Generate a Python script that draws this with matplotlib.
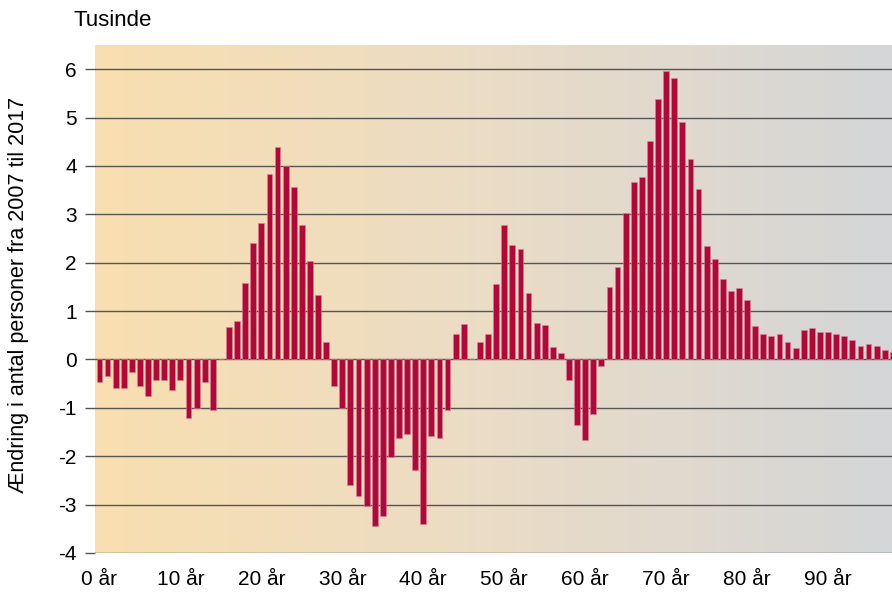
import numpy as np
import matplotlib
matplotlib.use('Agg')
import matplotlib.pyplot as plt
from matplotlib.colors import LinearSegmentedColormap

# ===== DATA =====
ages = np.arange(0, 99)
change = [
    -0.47, -0.35, -0.59, -0.59, -0.27, -0.55, -0.76, -0.43, -0.43, -0.63,
    -0.43, -1.21, -1.00, -0.47, -1.05, 0.00, 0.67, 0.80, 1.59, 2.41,
    2.83, 3.83, 4.39, 3.99, 3.57, 2.78, 2.04, 1.34, 0.35, -0.55,
    -1.00, -2.59, -2.83, -3.03, -3.45, -3.24, -2.01, -1.62, -1.55, -2.29,
    -3.41, -1.59, -1.62, -1.05, 0.53, 0.74, 0.00, 0.36, 0.53, 1.55,
    2.78, 2.37, 2.29, 1.38, 0.76, 0.71, 0.26, 0.14, -0.43, -1.35,
    -1.67, -1.13, -0.14, 1.50, 1.92, 3.03, 3.66, 3.78, 4.52, 5.39,
    5.97, 5.81, 4.90, 4.15, 3.53, 2.34, 2.08, 1.67, 1.42, 1.47,
    1.23, 0.69, 0.52, 0.48, 0.52, 0.36, 0.23, 0.60, 0.65, 0.56,
    0.56, 0.52, 0.48, 0.40, 0.28, 0.32, 0.28, 0.19, 0.15,
]
tick_ages = [0, 10, 20, 30, 40, 50, 60, 70, 80, 90]
tick_labels = ['0 år', '10 år', '20 år', '30 år', '40 år',
               '50 år', '60 år', '70 år', '80 år', '90 år']
y_ticks = [-4, -3, -2, -1, 0, 1, 2, 3, 4, 5, 6]

plt.rcParams['font.family'] = ['Liberation Sans', 'DejaVu Sans']

fig = plt.figure(figsize=(8.92, 5.92), dpi=100)
ax = fig.add_axes([0.1065, 0.066, 0.8935, 0.858])

XMIN, XMAX = -0.55, 97.9
YMIN, YMAX = -4, 6.5

# background gradient: peach on the left -> grey on the right
bg_cmap = LinearSegmentedColormap.from_list('bg', ['#F9DFB0', '#EADCC6', '#D4D6D8'])
ax.imshow(np.linspace(0, 1, 256).reshape(1, -1), cmap=bg_cmap, aspect='auto',
          extent=[XMIN, XMAX, YMIN, YMAX], zorder=0, interpolation='bilinear')

for y in y_ticks:
    ax.axhline(y, color='#555555', lw=1.0, zorder=1)

ax.bar(ages, change, width=0.72, color='#B20838', edgecolor='#D7849A',
       linewidth=0.4, zorder=2)

ax.set_xlim(XMIN, XMAX)
ax.set_ylim(YMIN, YMAX)

ax.set_yticks(y_ticks)
ax.set_yticklabels([str(v) for v in y_ticks])
ax.set_xticks(tick_ages)
ax.set_xticklabels(tick_labels)

ax.tick_params(axis='y', length=7, width=1, color='#555555', pad=6, labelsize=15)
ax.tick_params(axis='x', length=0, pad=12, labelsize=15)

for s in ax.spines.values():
    s.set_visible(False)

fig.text(0.082, 0.965, 'Tusinde', fontsize=16, ha='left', va='center')
fig.text(0.021, 0.502, 'Ændring i antal personer fra 2007 til 2017', fontsize=15.5,
         rotation=90, ha='center', va='center')

plt.savefig('out.png', dpi=100)
plt.close()
